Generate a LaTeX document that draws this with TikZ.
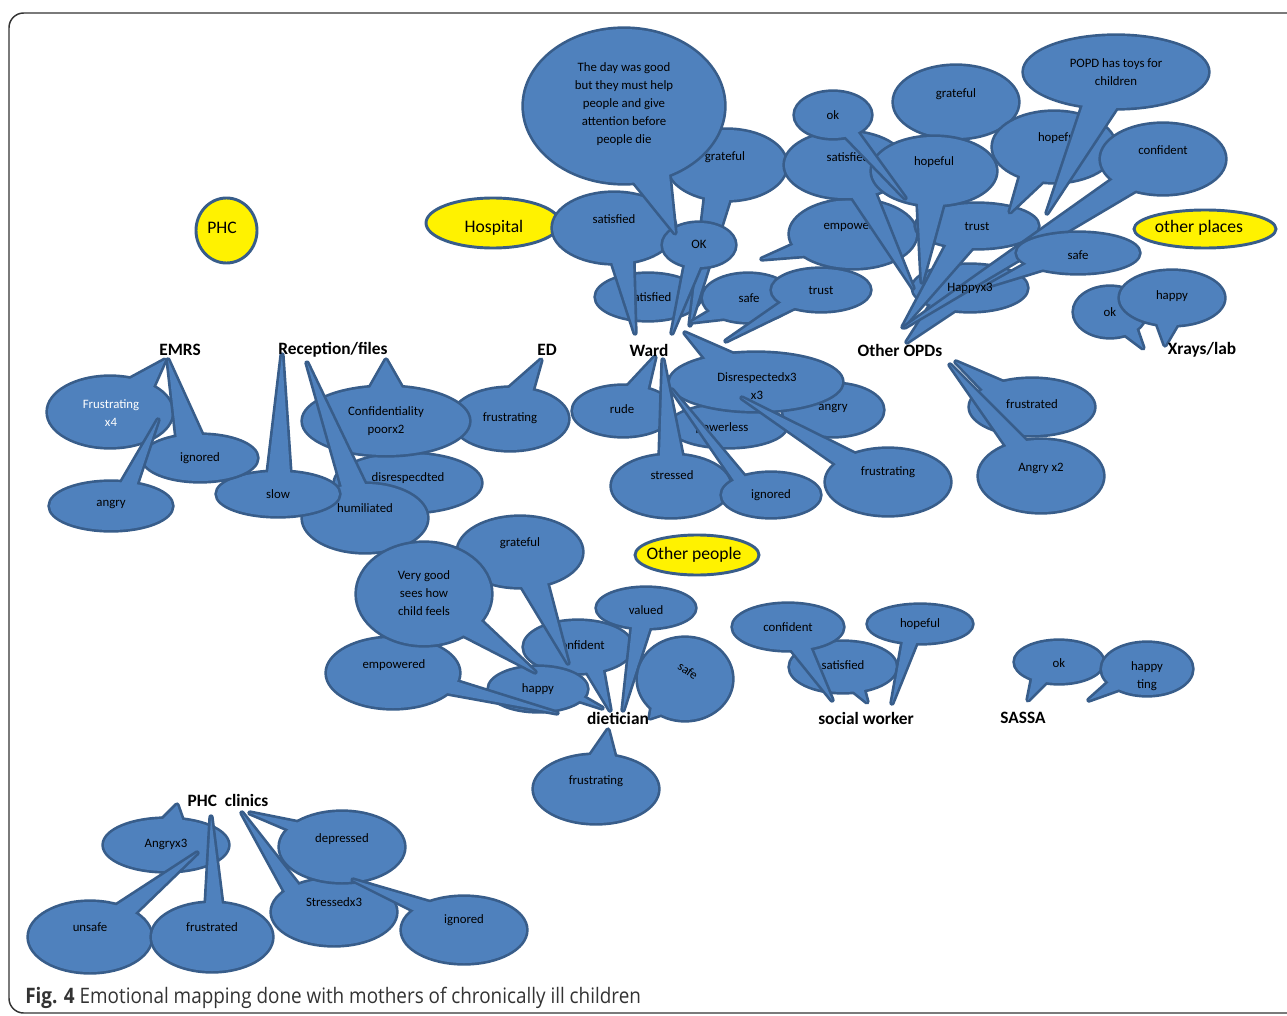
\documentclass[tikz,border=0pt]{standalone}
\usepackage{fontspec}
\setmainfont{Carlito}
\newfontfamily\capfont{Open Sans}
\usetikzlibrary{calc}
\definecolor{bfill}{HTML}{4F81BD}
\definecolor{bline}{HTML}{385D8A}
\definecolor{capgray}{HTML}{333333}
\tikzset{
  bubline/.style={draw=bline, line width=4pt, line join=round},
  bubfill/.style={fill=bfill},
  btxt/.style={font=\fontsize{9.6}{13.5}\selectfont, align=center, inner sep=0pt, text=black},
  place/.style={font=\bfseries\fontsize{13}{15}\selectfont, inner sep=0pt},
  yel/.style={draw=bline, fill=yellow, line width=2.2pt},
  ytxt/.style={font=\fontsize{13.2}{15}\selectfont, inner sep=0pt},
  framebox/.style={draw=capgray, line width=1.1pt, rounded corners=11pt},
}
% #1 centre, #2 rx, #3 ry, #4 base point 1, #5 tip, #6 base point 2
\newcommand\bub[6]{%
  \draw[bubline] #1 ellipse [x radius=#2, y radius=#3];
  \draw[bubline] #1 -- ($#4!-6pt!#5$) -- #5 -- ($#6!-6pt!#5$) -- cycle;
  \fill[bubfill] #1 ellipse [x radius=#2, y radius=#3];
  \fill[bubfill] #1 -- ($#4!-6pt!#5$) -- #5 -- ($#6!-6pt!#5$) -- cycle;
}
\newcommand\bubnt[3]{%
  \draw[bubline] #1 ellipse [x radius=#2, y radius=#3];
  \fill[bubfill] #1 ellipse [x radius=#2, y radius=#3];
}
\begin{document}
\begin{tikzpicture}[x={(0.75pt,0)}, y={(0,-0.75pt)}]
\useasboundingbox (0,0) rectangle (1287,1016);
\draw[framebox] (9,13) rectangle (1310,1013);

% ---------- yellow place markers ----------
\draw[yel] (226.5,230.5) ellipse [x radius=30.5, y radius=32.5];
\node[ytxt] (phc) at (222,228) {PHC};
\draw[yel] (493,223) ellipse [x radius=67, y radius=25];
\node[ytxt] (hospital) at (494,228) {Hospital};
\draw[yel] (1205,229) ellipse [x radius=71, y radius=19];
\node[ytxt] (otherplaces) at (1199,228) {other places};
\draw[yel] (697,555) ellipse [x radius=62, y radius=20];
\node[ytxt] (otherpeople) at (694,555) {Other people};

% ---------- Ward / hospital cluster ----------
\bubnt{(648,297)}{52}{23}
\node[btxt] (satlow) at (650,297) {satisfied};
\bub{(727,165)}{59}{35}{(705,199)}{(690,325)}{(730,198)}
\node[btxt] (grat1) at (725,157) {grateful};
\bub{(614,228)}{61}{35}{(612,262)}{(635,333)}{(633,260)}
\node[btxt] (sat1) at (614,219) {satisfied};
\bub{(699,245)}{36}{22}{(685,265)}{(672,333)}{(700,267)}
\node[btxt] (ok1) at (699,244) {OK};
\bub{(624,106)}{100}{77}{(633,181)}{(675,233)}{(669,174)}
\node[btxt] (daygood) at (624,104) {The day was good\\but they must help\\people and give\\attention before\\people die};
\bub{(748,298)}{45}{24}{(712,310)}{(692,322)}{(727,318)}
\node[btxt] (safew) at (749,298) {safe};
\bub{(821,290)}{49}{21}{(782,302)}{(726,341)}{(792,309)}
\node[btxt] (trustw) at (821,290) {trust};

\bub{(623,411)}{50}{25}{(627,387)}{(655,357)}{(648,387)}
\node[btxt] (rude) at (622,409) {rude};
\bubnt{(728,426)}{58}{21}
\node[btxt] (powerless) at (722,428) {powerless};
\bubnt{(833,410)}{50}{26}
\node[btxt] (angryw) at (833,408) {angry};
\bub{(756,382)}{86}{29}{(705,358)}{(685,333)}{(733,354)}
\node[btxt] (disresp) at (757,386) {Disrespectedx3\\x3};
\bub{(888,482)}{62}{33}{(833,462)}{(742,398)}{(853,453)}
\node[btxt] (frustw) at (888,472) {frustrating};
\bub{(671,486)}{59}{31}{(660,455)}{(663,360)}{(682,455)}
\node[btxt] (stressed) at (672,475) {stressed};
\bub{(771,495)}{49}{22}{(733,479)}{(672,390)}{(745,477)}
\node[btxt] (ignoredw) at (771,495) {ignored};

% ---------- ED ----------
\bub{(510,419)}{58}{31}{(508,389)}{(541,360)}{(532,392)}
\node[btxt] (frusted) at (510,418) {frustrating};

% ---------- Reception/files ----------
\bubnt{(408,483)}{73}{29}
\node[btxt] (disresp2) at (408,478) {disrespecdted};
\bub{(386,421)}{83}{34}{(370,388)}{(386,360)}{(402,388)}
\node[btxt] (confid) at (386,421) {Confidentiality\\poorx2};
\bub{(365,518)}{62}{34}{(342,487)}{(307,363)}{(365,484)}
\node[btxt] (humil) at (365,508) {humiliated};
\bub{(278,494)}{61}{22}{(268,473)}{(282,355)}{(290,473)}
\node[btxt] (slow) at (278,494) {slow};

% ---------- EMRS ----------
\bub{(110,412)}{62}{35}{(130,379)}{(165,360)}{(153,387)}
\node[btxt, text=white] (frust4) at (111,413) {Frustrating\\x4};
\bub{(200,458)}{57}{23}{(177,440)}{(168,360)}{(203,437)}
\node[btxt] (ignorede) at (200,458) {ignored};
\bub{(111,506)}{61}{24}{(120,485)}{(158,420)}{(137,483)}
\node[btxt] (angrye) at (111,504) {angry};

% ---------- Other OPDs ----------
\bubnt{(956,102)}{62}{36}
\node[btxt] (grat2) at (956,94) {grateful};
\bub{(853,234)}{63}{34}{(793,245)}{(762,259)}{(800,256)}
\node[btxt] (empw) at (855,226) {empowered};
\bub{(970,288)}{57}{23}{(930,306)}{(907,342)}{(955,310)}
\bub{(977,226)}{61}{22}{(947,244)}{(903,327)}{(973,247)}
\node[btxt] (trusto) at (977,227) {trust};
\bub{(845,165)}{60}{33}{(852,197)}{(913,288)}{(875,193)}
\node[btxt] (sat2) at (848,157) {satisfied};
\bub{(934,171)}{62}{34}{(918,204)}{(922,282)}{(943,205)}
\node[btxt] (hope1) at (934,162) {hopeful};
\bub{(833,115)}{38}{23}{(845,136)}{(905,198)}{(858,133)}
\node[btxt] (ok2) at (833,115) {ok};
\bub{(1054,147)}{61}{35}{(1020,177)}{(1010,212)}{(1043,181)}
\node[btxt] (hope2) at (1058,138) {hopeful};
\bub{(1116,72)}{92}{36}{(1083,105)}{(1047,213)}{(1117,107)}
\node[btxt] (popd) at (1116,72) {POPD has toys for\\children};
\bub{(1163,159)}{62}{35}{(1112,180)}{(905,327)}{(1133,192)}
\node[btxt] (confo) at (1163,150) {confident};
\bub{(1078,253)}{61}{20}{(1028,263)}{(985,287)}{(1047,268)}
\node[btxt] (safeo) at (1078,255) {safe};
\node[btxt] (happy3) at (970,288) {Happyx3};

% ---------- Xrays/lab ----------
\bub{(1110,312)}{36}{25}{(1123,333)}{(1143,348)}{(1135,325)}
\node[btxt] (okx) at (1110,312) {ok};
\bub{(1172,298)}{52}{27}{(1157,323)}{(1165,345)}{(1178,323)}
\node[btxt] (happyx) at (1172,296) {happy};

% ---------- Other OPDs (negative) ----------
\bub{(1032,407)}{62}{28}{(983,390)}{(956,362)}{(1005,383)}
\node[btxt] (frusto) at (1032,404) {frustrated};
\bub{(1041,476)}{62}{36}{(1007,447)}{(950,365)}{(1027,442)}
\node[btxt] (angryo) at (1041,468) {Angry x2};

% ---------- dietician ----------
\bub{(578,647)}{54}{26}{(587,672)}{(610,710)}{(603,671)}
\node[btxt] (confd) at (580,645) {confident};
\bub{(538,689)}{49}{22}{(577,700)}{(602,708)}{(583,697)}
\node[btxt] (happyd) at (538,689) {happy};
\bub{(393,673)}{66}{35}{(447,693)}{(557,713)}{(458,682)}
\node[btxt] (empd) at (394,665) {empowered};
\bub{(520,552)}{62}{35}{(522,587)}{(568,663)}{(547,583)}
\node[btxt] (gratd) at (520,543) {grateful};
\bub{(424,594)}{67}{51}{(463,635)}{(535,672)}{(482,622)}
\node[btxt] (verygood) at (424,593) {Very good\\sees how\\child feels};
\bub{(646,608)}{49}{20}{(632,627)}{(623,710)}{(650,627)}
\node[btxt] (valued) at (646,610) {valued};
\bub{(685,679)}{47}{41}{(653,700)}{(650,718)}{(668,712)}
\node[btxt, rotate=-35] (safed) at (688,671) {safe};
\bub{(596,789)}{62}{34}{(590,756)}{(608,730)}{(615,757)}
\node[btxt] (frustd) at (596,781) {frustrating};

% ---------- social worker ----------
\bub{(843,667)}{53}{25}{(852,690)}{(867,702)}{(863,687)}
\node[btxt] (sats) at (843,665) {satisfied};
\bub{(788,627)}{55}{23}{(790,648)}{(832,700)}{(810,647)}
\node[btxt] (confs) at (788,627) {confident};
\bub{(920,624)}{52}{19}{(903,641)}{(892,703)}{(917,641)}
\node[btxt] (hopes) at (920,624) {hopeful};

% ---------- SASSA ----------
\bub{(1059,662)}{44}{21}{(1032,680)}{(1028,700)}{(1045,683)}
\node[btxt] (oks) at (1059,663) {ok};
\bub{(1147,669)}{45}{26}{(1108,683)}{(1089,700)}{(1117,690)}
\node[btxt] (happys) at (1147,676) {happy\\ting};

% ---------- PHC clinics ----------
\bub{(166,845)}{62}{26}{(162,820)}{(177,805)}{(183,822)}
\node[btxt] (angryp) at (166,844) {Angryx3};
\bub{(90,937)}{61}{35}{(117,905)}{(197,853)}{(135,913)}
\node[btxt] (unsafe) at (90,927) {unsafe};
\bub{(212,937)}{60}{34}{(206,905)}{(211,817)}{(222,905)}
\node[btxt] (frustp) at (212,927) {frustrated};
\bub{(334,912)}{62}{33}{(283,888)}{(242,813)}{(297,883)}
\node[btxt] (stressp) at (334,902) {Stressedx3};
\bub{(342,847)}{62}{35}{(290,830)}{(250,813)}{(300,823)}
\node[btxt] (depp) at (342,839) {depressed};
\bub{(464,930)}{62}{33}{(407,907)}{(353,880)}{(425,901)}
\node[btxt] (ignp) at (464,920) {ignored};

% ---------- place labels ----------
\node[place] (emrs) at (180,350) {EMRS};
\node[place] (reception) at (333,350) {Reception/files};
\node[place] (ed) at (547,350) {ED};
\node[place] (ward) at (649,350) {Ward};
\node[place] (otheropds) at (900,350) {Other OPDs};
\node[place] (xrays) at (1202,350) {Xrays/lab};
\node[place] (dietician) at (618,718) {dietician};
\node[place] (socialworker) at (866,718) {social worker};
\node[place] (sassa) at (1023,718) {SASSA};
\node[place] (phcclinics) at (228,800) {PHC\ \ clinics};

% ---------- caption ----------
\node[anchor=west, inner sep=0pt, text=capgray, font=\capfont\fontsize{16}{18}\selectfont] (caption) at (25,998)
  {\scalebox{0.885}[1]{\textbf{Fig. 4} Emotional mapping done with mothers of chronically ill children}};
\end{tikzpicture}
\end{document}
